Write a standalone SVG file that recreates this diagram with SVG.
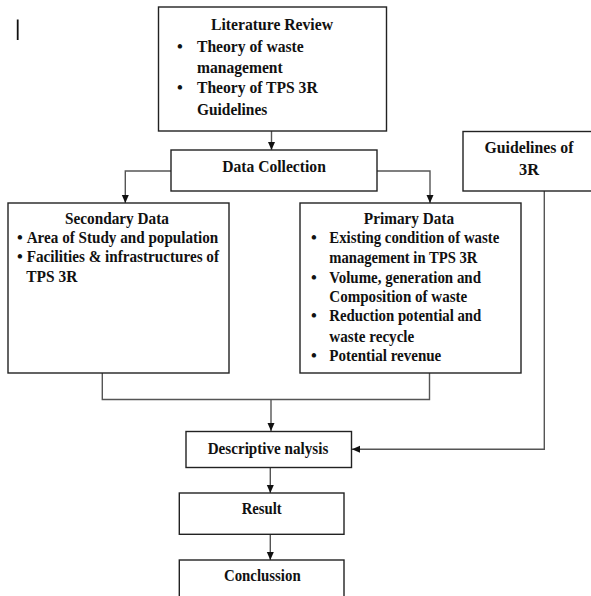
<svg xmlns="http://www.w3.org/2000/svg" width="591" height="596" viewBox="0 0 591 596">
<defs>
<marker id="arr" markerUnits="userSpaceOnUse" markerWidth="8" markerHeight="9" refX="8" refY="4" orient="auto">
<path d="M0,0.5 L8,4 L0,7.5 z" fill="#111"/>
</marker>
<style>
.box{fill:#fff;stroke:#222;stroke-width:1.4}
.t{font-family:"Liberation Serif","Times New Roman",serif;font-weight:bold;font-size:16.5px;fill:#111}
.c{text-anchor:middle}
.lg{font-size:17px}
.ln{fill:none;stroke:#555;stroke-width:1.4}
</style>
</defs>
<rect width="591" height="596" fill="#fff"/>
<line x1="17.7" y1="19.5" x2="17.7" y2="40" stroke="#111" stroke-width="1.8"/>
<g id="connectors">
<line class="ln" x1="271.5" y1="131" x2="271.5" y2="150" marker-end="url(#arr)"/>
<polyline class="ln" points="171,171 125.3,171 125.3,203" marker-end="url(#arr)"/>
<polyline class="ln" points="377,171 430,171 430,203" marker-end="url(#arr)"/>
<polyline class="ln" points="102.3,373 102.3,399.5 429.5,399.5 429.5,373"/>
<line class="ln" x1="271" y1="399.5" x2="271" y2="431" marker-end="url(#arr)"/>
<polyline class="ln" points="544.3,191 544.3,449.3 352,449.3" marker-end="url(#arr)"/>
<line class="ln" x1="270.3" y1="467.5" x2="270.3" y2="493" marker-end="url(#arr)"/>
<line class="ln" x1="270.3" y1="534.5" x2="270.3" y2="560" marker-end="url(#arr)"/>
</g>
<g id="literature-review">
<rect class="box" x="158.5" y="7" width="228" height="124"/>
<text class="t c lg" x="272" y="30" textLength="122" lengthAdjust="spacingAndGlyphs">Literature Review</text>
<text class="t" x="177" y="52">•</text>
<text class="t lg" x="197" y="52" textLength="106.7" lengthAdjust="spacingAndGlyphs">Theory of waste</text>
<text class="t lg" x="197" y="72.5" textLength="85.7" lengthAdjust="spacingAndGlyphs">management</text>
<text class="t" x="177" y="93">•</text>
<text class="t lg" x="197" y="93" textLength="120.7" lengthAdjust="spacingAndGlyphs">Theory of TPS 3R</text>
<text class="t lg" x="197" y="115" textLength="70.3" lengthAdjust="spacingAndGlyphs">Guidelines</text>
</g>
<g id="data-collection">
<rect class="box" x="171" y="150" width="206" height="41"/>
<text class="t c lg" x="274" y="172.3" textLength="103.7" lengthAdjust="spacingAndGlyphs">Data Collection</text>
</g>
<g id="guidelines">
<rect class="box" x="463" y="131.5" width="132" height="59.5"/>
<text class="t c lg" x="529" y="153" textLength="89" lengthAdjust="spacingAndGlyphs">Guidelines of</text>
<text class="t c lg" x="529" y="175" textLength="20" lengthAdjust="spacingAndGlyphs">3R</text>
</g>
<g id="secondary-data">
<rect class="box" x="8" y="203" width="221" height="170"/>
<text class="t c" x="117" y="224.3" textLength="104" lengthAdjust="spacingAndGlyphs">Secondary Data</text>
<text class="t" x="17" y="242.7">•</text>
<text class="t" x="26.7" y="242.7" textLength="191.6" lengthAdjust="spacingAndGlyphs">Area of Study and population</text>
<text class="t" x="17" y="261.7">•</text>
<text class="t" x="26.7" y="261.7" textLength="192.3" lengthAdjust="spacingAndGlyphs">Facilities &amp; infrastructures of</text>
<text class="t" x="26.3" y="281.7" textLength="51" lengthAdjust="spacingAndGlyphs">TPS 3R</text>
</g>
<g id="primary-data">
<rect class="box" x="300" y="203" width="221" height="170"/>
<text class="t c" x="409" y="224.3" textLength="90.3" lengthAdjust="spacingAndGlyphs">Primary Data</text>
<text class="t" x="311" y="243.3">•</text>
<text class="t" x="329.3" y="243.3" textLength="170" lengthAdjust="spacingAndGlyphs">Existing condition of waste</text>
<text class="t" x="329.3" y="263.3" textLength="148" lengthAdjust="spacingAndGlyphs">management in TPS 3R</text>
<text class="t" x="311" y="283.3">•</text>
<text class="t" x="329.3" y="283.3" textLength="151.7" lengthAdjust="spacingAndGlyphs">Volume, generation and</text>
<text class="t" x="329.3" y="301.7" textLength="138" lengthAdjust="spacingAndGlyphs">Composition of waste</text>
<text class="t" x="311" y="321">•</text>
<text class="t" x="329.3" y="321" textLength="152" lengthAdjust="spacingAndGlyphs">Reduction potential and</text>
<text class="t" x="329.3" y="341.7" textLength="85" lengthAdjust="spacingAndGlyphs">waste recycle</text>
<text class="t" x="311" y="361">•</text>
<text class="t" x="329.3" y="361" textLength="112" lengthAdjust="spacingAndGlyphs">Potential revenue</text>
</g>
<g id="descriptive-analysis">
<rect class="box" x="186" y="431.5" width="165.5" height="36"/>
<text class="t c" x="268" y="454" textLength="120.6" lengthAdjust="spacingAndGlyphs">Descriptive nalysis</text>
</g>
<g id="result">
<rect class="box" x="179.3" y="493" width="164.7" height="41.3"/>
<text class="t c" x="261.7" y="514" textLength="40" lengthAdjust="spacingAndGlyphs">Result</text>
</g>
<g id="conclusion">
<rect class="box" x="179.3" y="560" width="164.7" height="45"/>
<text class="t c" x="262.3" y="581" textLength="76.7" lengthAdjust="spacingAndGlyphs">Conclussion</text>
</g>
</svg>
